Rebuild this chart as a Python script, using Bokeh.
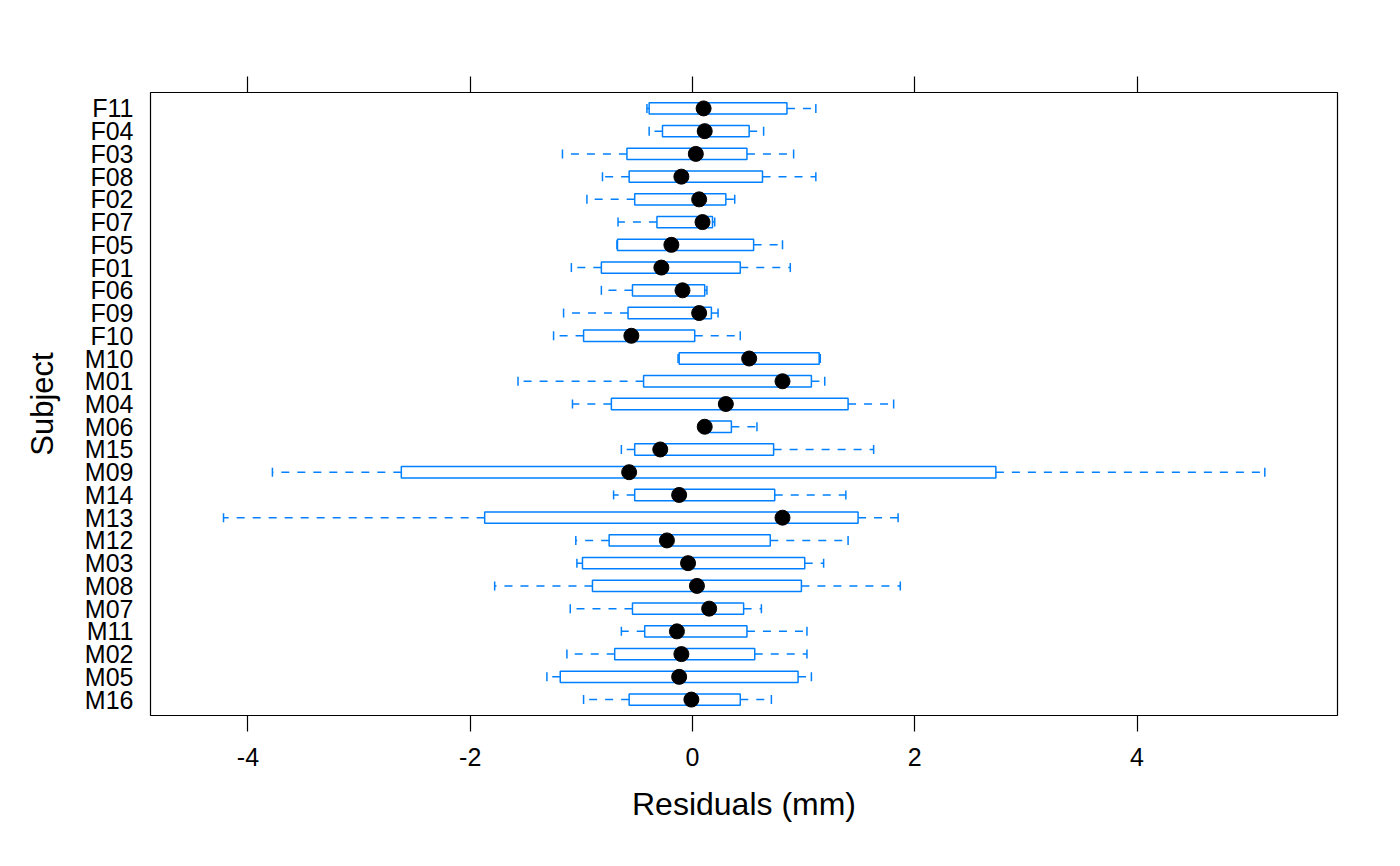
from bokeh.plotting import figure
from bokeh.models import Range1d, FactorRange, LinearAxis, FixedTicker, ColumnDataSource
from bokeh.embed import file_html
from bokeh.resources import INLINE
import math

subjects = ["F11", "F04", "F03", "F08", "F02", "F07", "F05", "F01", "F06", "F09", "F10",
            "M10", "M01", "M04", "M06", "M15", "M09", "M14", "M13", "M12", "M03", "M08",
            "M07", "M11", "M02", "M05", "M16"]
low = [-0.41, -0.39, -1.17, -0.81, -0.95, -0.67, -0.68, -1.09, -0.82, -1.16, -1.25,
       -0.13, -1.57, -1.08, 0.08, -0.64, -3.78, -0.71, -4.22, -1.05, -1.04, -1.78,
       -1.10, -0.64, -1.13, -1.31, -0.98]
q1 = [-0.39, -0.27, -0.59, -0.57, -0.52, -0.32, -0.675, -0.82, -0.54, -0.58, -0.98,
      -0.12, -0.44, -0.73, 0.10, -0.52, -2.62, -0.52, -1.87, -0.75, -0.99, -0.90,
      -0.54, -0.43, -0.70, -1.19, -0.57]
median = [0.10, 0.11, 0.03, -0.10, 0.06, 0.09, -0.19, -0.28, -0.09, 0.06, -0.55,
          0.51, 0.81, 0.30, 0.11, -0.29, -0.57, -0.12, 0.81, -0.23, -0.04, 0.04,
          0.15, -0.14, -0.10, -0.12, -0.01]
q3 = [0.85, 0.51, 0.49, 0.63, 0.30, 0.18, 0.55, 0.43, 0.11, 0.17, 0.02,
      1.14, 1.07, 1.40, 0.35, 0.73, 2.73, 0.74, 1.49, 0.70, 1.01, 0.98,
      0.46, 0.49, 0.56, 0.95, 0.43]
high = [1.11, 0.64, 0.91, 1.11, 0.38, 0.20, 0.81, 0.88, 0.13, 0.23, 0.43,
        1.15, 1.19, 1.81, 0.58, 1.63, 5.15, 1.38, 1.85, 1.40, 1.18, 1.87,
        0.62, 1.03, 1.03, 1.07, 0.71]
x_ticks = [-4, -2, 0, 2, 4]
x_tick_labels = {-4: "-4", -2: "-2", 0: "0", 2: "2", 4: "4"}

BLUE = "#0080FF"
FONT = "Liberation Sans"

src = ColumnDataSource(dict(subject=subjects, low=low, q1=q1, median=median, q3=q3, high=high))

p = figure(
    y_range=FactorRange(factors=subjects[::-1], range_padding=0.2, range_padding_units="absolute"),
    x_range=Range1d(-4.877, 5.804),
    frame_width=1187, frame_height=623,
    min_border_left=150, min_border_top=92, min_border_right=55, min_border_bottom=143,
    output_backend="svg", toolbar_location=None,
)
p.xgrid.visible = False
p.ygrid.visible = False
p.outline_line_color = "black"
p.outline_line_width = 1.2
p.background_fill_color = "white"
p.border_fill_color = "white"

# whiskers
p.segment(x0="q1", y0="subject", x1="low", y1="subject", source=src,
          line_color=BLUE, line_width=1.5, line_dash="8 8")
p.segment(x0="q3", y0="subject", x1="high", y1="subject", source=src,
          line_color=BLUE, line_width=1.5, line_dash="8 8")
# boxes
p.hbar(y="subject", left="q1", right="q3", height=0.5, source=src,
       fill_color="white", line_color=BLUE, line_width=1.5)
# whisker caps
p.scatter(x="low", y="subject", source=src, marker="dash", angle=math.pi / 2,
          size=9, line_color=BLUE, line_width=1.5)
p.scatter(x="high", y="subject", source=src, marker="dash", angle=math.pi / 2,
          size=9, line_color=BLUE, line_width=1.5)
# medians
p.scatter(x="median", y="subject", source=src, marker="circle", size=15,
          fill_color="black", line_color="black")

# bottom axis
xa = p.xaxis[0]
xa.ticker = FixedTicker(ticks=x_ticks)
xa.major_label_overrides = x_tick_labels
xa.axis_line_color = None
xa.major_tick_out = 16
xa.major_tick_in = 0
xa.minor_tick_line_color = None
xa.major_tick_line_color = "black"
xa.major_tick_line_width = 1.2
xa.major_label_text_font = FONT
xa.major_label_text_font_size = "25px"
xa.major_label_text_color = "black"
xa.major_label_standoff = 16
xa.axis_label = "Residuals (mm)"
xa.axis_label_text_font = FONT
xa.axis_label_text_font_size = "32px"
xa.axis_label_text_font_style = "normal"
xa.axis_label_text_color = "black"
xa.axis_label_standoff = 17

# top axis: ticks only
ta = LinearAxis(ticker=FixedTicker(ticks=x_ticks), axis_line_color=None,
                major_tick_out=16, major_tick_in=0, minor_tick_line_color=None,
                major_tick_line_color="black", major_tick_line_width=1.2,
                major_label_text_color=None, major_label_text_font_size="1px")
p.add_layout(ta, "above")

# left axis
ya = p.yaxis[0]
ya.axis_line_color = None
ya.major_tick_line_color = None
ya.major_tick_out = 0
ya.major_tick_in = 0
ya.minor_tick_line_color = None
ya.major_label_text_font = FONT
ya.major_label_text_font_size = "25px"
ya.major_label_text_color = "black"
ya.major_label_standoff = 17
ya.axis_label = "Subject"
ya.axis_label_text_font = FONT
ya.axis_label_text_font_size = "31px"
ya.axis_label_text_font_style = "normal"
ya.axis_label_text_color = "black"
ya.axis_label_standoff = 22

open("out.html", "w").write(file_html(p, INLINE))
